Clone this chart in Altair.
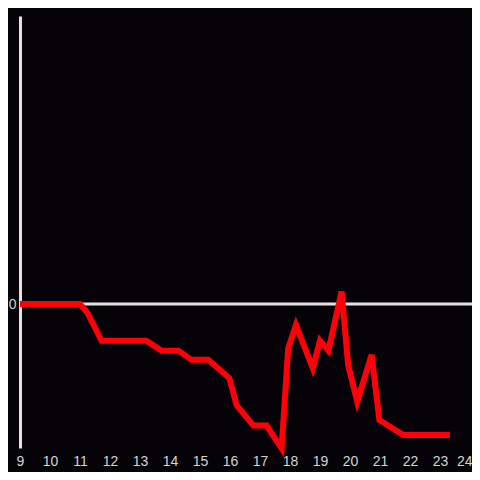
import altair as alt
import pandas as pd

hours = [9.0, 11.0, 11.25, 11.72, 13.22, 13.72, 14.28, 14.72, 15.28, 15.67, 15.98,
         16.22, 16.78, 17.22, 17.72, 17.94, 18.2, 18.76, 19.0, 19.28, 19.72,
         19.94, 20.24, 20.72, 20.98, 21.78, 23.33]
values = [0, 0, -3.1, -12.8, -12.8, -16.2, -16.2, -19.4, -19.4, -22.9, -25.8,
          -35.1, -42.2, -42.2, -50.1, -15.4, -7.3, -22.3, -12.7, -16.2, 4.3,
          -21.2, -33.9, -17.7, -40.3, -45.5, -45.5]
x_ticks = list(range(9, 25))

df = pd.DataFrame({"hour": hours, "value": values})

bg = "#050307"
axis_col = "#e3e3e3"
label_col = "#d4d4d4"

xscale = alt.Scale(domain=[9, 24.0667], nice=False, zero=False)
yscale = alt.Scale(domain=[-50, 100], nice=False)

yaxis = alt.Axis(values=[0], domain=True, domainColor=axis_col,
                 domainWidth=3, ticks=False, grid=False, title=None,
                 labelColor=label_col, labelFontSize=14,
                 labelFont="Liberation Sans", labelPadding=4)
xaxis = alt.Axis(values=x_ticks, domain=False, ticks=False, grid=False,
                 title=None, labelColor=label_col, labelFontSize=14,
                 labelFont="Liberation Sans", labelPadding=6,
                 labelFlush=False, labelOverlap=False,
                 labelAlign={"condition": {"test": "datum.value == 24", "value": "right"},
                             "value": "center"},
                 labelOffset={"condition": {"test": "datum.value == 24", "value": 2},
                              "value": 0})

zero = alt.Chart(pd.DataFrame({"v": [0]})).mark_rule(
    color=axis_col, strokeWidth=3, clip=False
).encode(
    y=alt.Y("v:Q", scale=yscale, axis=yaxis),
    x=alt.value(0),
    x2=alt.value(460),
)

line = alt.Chart(df).mark_line(
    color="#ff0008", strokeWidth=6, strokeJoin="miter", clip=False
).encode(
    x=alt.X("hour:Q", scale=xscale, axis=xaxis),
    y=alt.Y("value:Q", scale=yscale, axis=yaxis),
)

chart = alt.layer(zero, line).properties(
    width=452, height=432, background=bg,
    autosize=alt.AutoSizeParams(type="none"),
    padding={"left": 12, "top": 8, "right": 0, "bottom": 24},
).configure_view(stroke=None)

chart.save("out.html", embed_options={"renderer": "svg", "actions": False})
